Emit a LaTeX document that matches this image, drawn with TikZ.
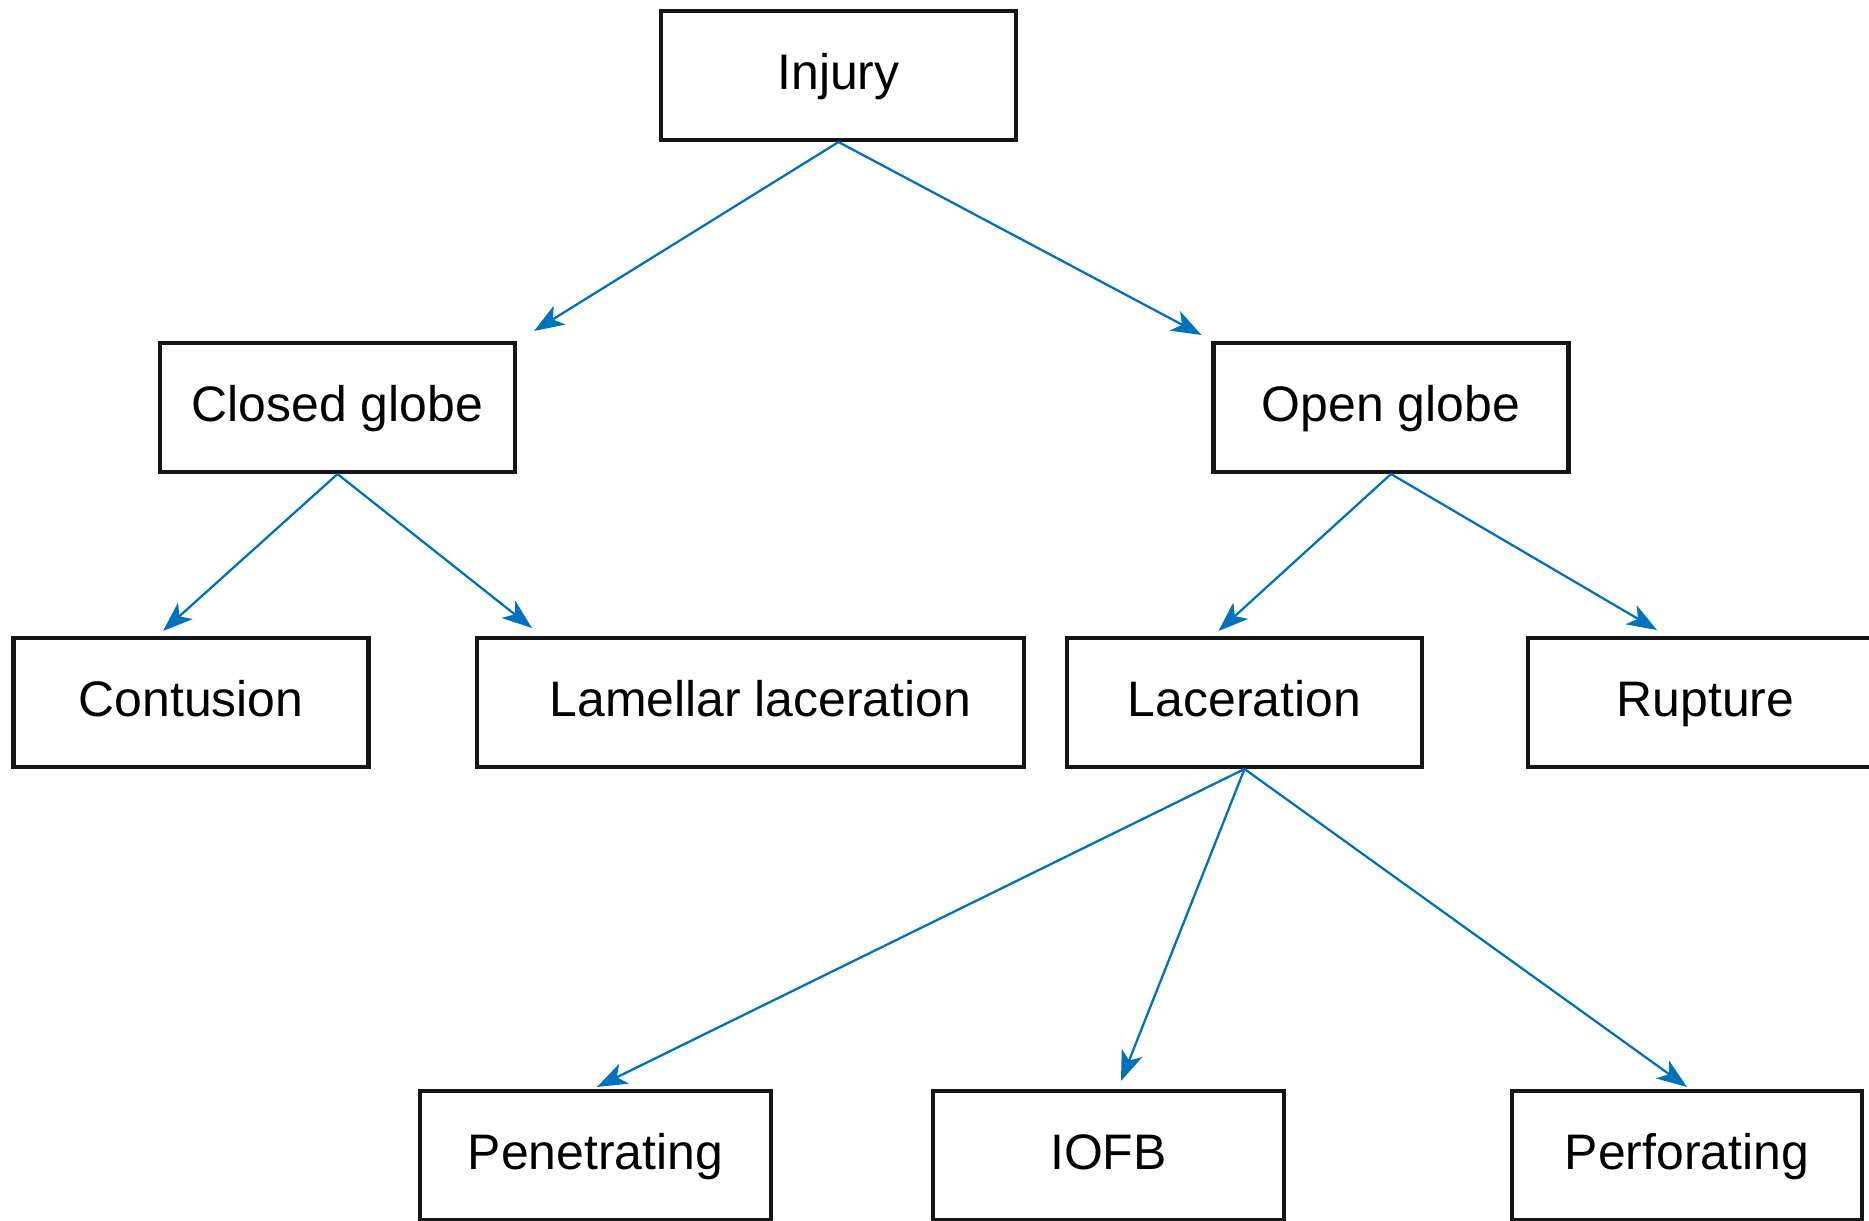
\documentclass[tikz,border=0pt]{standalone}
\usepackage{fontspec}
\setmainfont{Liberation Sans}
\usetikzlibrary{arrows.meta}
\definecolor{arrowblue}{RGB}{0,114,188}
\definecolor{boxblack}{RGB}{22,22,22}
\begin{document}
\begin{tikzpicture}[
  box/.style={draw=boxblack, line width=1.15pt, minimum width=3.55cm, minimum height=1.29cm, inner sep=0pt, text height=11pt, text depth=2.8pt, font=\fontsize{14.2}{17}\selectfont},
  arr/.style={draw=arrowblue, line width=0.65pt, -{Stealth[length=0.3cm,width=0.22cm,inset=0.08cm]}}]
\useasboundingbox (0,0) rectangle (18.69,-12.20);
\node[box] (injury) at (8.385,-0.755) {Injury};
\node[box] (closed) at (3.375,-4.075) {Closed globe};
\node[box] (open) at (13.91,-4.075) {Open globe};
\node[box] (contusion) at (1.91,-7.025) {Contusion};
\node[box, minimum width=5.47cm] (lamellar) at (7.505,-7.025) {\hspace*{0.2cm}Lamellar laceration};
\node[box] (laceration) at (12.445,-7.025) {Laceration};
\node[box] (rupture) at (17.055,-7.025) {Rupture};
\node[box, minimum width=3.51cm] (penetrating) at (5.955,-11.555) {Penetrating};
\node[box, minimum width=3.51cm] (iofb) at (11.085,-11.555) {IOFB};
\node[box, minimum width=3.5cm] (perforating) at (16.87,-11.555) {Perforating};
\draw[arr] (injury.south) -- ([xshift=0.17cm,yshift=0.1cm]closed.north east);
\draw[arr] (injury.south) -- ([xshift=-0.1cm,yshift=0.06cm]open.north west);
\draw[arr] (closed.south) -- ([xshift=-0.28cm,yshift=0.05cm]contusion.north);
\draw[arr] (closed.south) -- ([xshift=0.57cm,yshift=0.08cm]lamellar.north west);
\draw[arr] (open.south) -- ([xshift=-0.26cm,yshift=0.05cm]laceration.north);
\draw[arr] (open.south) -- ([xshift=-0.485cm,yshift=0.06cm]rupture.north);
\draw[arr] (laceration.south) -- ([xshift=0.015cm,yshift=0.02cm]penetrating.north);
\draw[arr] (laceration.south) -- ([xshift=0.125cm,yshift=0.08cm]iofb.north);
\draw[arr] (laceration.south) -- ([yshift=0.02cm]perforating.north);
\end{tikzpicture}
\end{document}
